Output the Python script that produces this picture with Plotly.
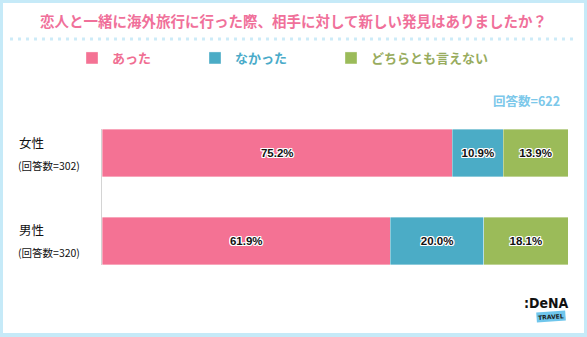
import plotly.graph_objects as go

# Survey: did you discover something new about your partner on an overseas trip?
groups = ["女性", "男性"]
respondents = [302, 320]
total_respondents = 622

answers = ["あった", "なかった", "どちらとも言えない"]
share_yes = [75.2, 61.9]
share_no = [10.9, 20.0]
share_neither = [13.9, 18.1]

bar_colors = ["#F47294", "#4BACC6", "#9BBB59"]
legend_text_colors = ["#F06E92", "#4AABC9", "#98AC5E"]

W, H = 587, 337
JP = "Noto Sans CJK JP"


def px(x):
    return x / W


def py(y):
    return 1 - y / H


fig = go.Figure()

series = [share_yes, share_no, share_neither]
legend_ids = ["legend", "legend2", "legend3"]
ypos = list(range(len(groups)))
for name, vals, color, lid in zip(answers, series, bar_colors, legend_ids):
    fig.add_trace(go.Bar(
        y=ypos,
        x=vals,
        orientation="h",
        name=name,
        legend=lid,
        width=0.545,
        marker=dict(color=color, line=dict(color="rgba(255,255,255,0.6)", width=0.6)),
        texttemplate="%{x:.1f}%",
        textposition="inside",
        insidetextanchor="middle",
        textangle=0,
        textfont=dict(family="Arial, Liberation Sans, sans-serif", size=11.5, color="#111111",
                      weight="bold",
                      shadow="1px 1px 0 #fff, -1px -1px 0 #fff, 1px -1px 0 #fff, -1px 1px 0 #fff, 0 1px 0 #fff, 1px 0 0 #fff, 0 -1px 0 #fff, -1px 0 0 #fff"),
        hoverinfo="skip",
    ))

# group labels with respondent counts
annotations = []
label_rows = [155, 242]
for g, n, yc in zip(groups, respondents, label_rows):
    annotations.append(dict(
        x=px(17), y=py(yc - 1), xref="paper", yref="paper",
        xanchor="left", yanchor="bottom", showarrow=False,
        text=g, font=dict(family=JP, size=12.5, color="#111111"),
    ))
    annotations.append(dict(
        x=px(16), y=py(yc + 1), xref="paper", yref="paper",
        xanchor="left", yanchor="top", showarrow=False,
        text=f"(回答数={n})", font=dict(family=JP, size=10.5, color="#111111"),
    ))

annotations += [
    dict(x=0.5, y=py(20), xref="paper", yref="paper", xanchor="center", yanchor="middle",
         showarrow=False,
         text="<b>恋人と一緒に海外旅行に行った際、相手に対して新しい発見はありましたか？</b>",
         font=dict(family=JP, size=14.5, color="#F0709A")),
    dict(x=px(562), y=py(100), xref="paper", yref="paper", xanchor="right", yanchor="middle",
         showarrow=False, text=f"<b>回答数={total_respondents}</b>",
         font=dict(family=JP, size=12.5, color="#7CC8EA")),
    dict(x=px(546), y=py(303), xref="paper", yref="paper", xanchor="center", yanchor="middle",
         showarrow=False, text="<b>:DeNA</b>",
         font=dict(family="DejaVu Sans Condensed, sans-serif", size=14, color="#111111")),
    dict(x=px(551), y=py(316), xref="paper", yref="paper", xanchor="center", yanchor="middle",
         showarrow=False, text="<b>TRAVEL</b>", textangle=-4, bgcolor="#6FC6EC",
         borderpad=1, font=dict(family="DejaVu Sans, sans-serif", size=6, color="#1A1A1A")),
]

shapes = [
    # frame interior
    dict(type="rect", xref="paper", yref="paper", x0=px(3), x1=px(584), y0=py(333), y1=py(3),
         fillcolor="white", line=dict(width=0), layer="below"),
    # dotted separator under the title
    dict(type="line", xref="paper", yref="paper", x0=px(10), x1=px(578), y0=py(39), y1=py(39),
         line=dict(color="#CDEBF8", width=3, dash="3px,5px")),
]

legend_x = [72, 195, 331]
legends = {}
for lid, xl, col in zip(legend_ids, legend_x, legend_text_colors):
    legends[lid] = dict(
        x=px(xl), y=py(58), xref="paper", yref="paper", xanchor="left", yanchor="middle",
        orientation="h", bgcolor="rgba(0,0,0,0)", borderwidth=0,
        font=dict(family=JP, size=13, color=col, weight="bold"),
        itemwidth=30, itemclick=False, itemdoubleclick=False,
    )

fig.update_layout(
    width=W, height=H,
    margin=dict(l=0, r=0, t=0, b=0),
    paper_bgcolor="#C6EAF8",
    plot_bgcolor="rgba(0,0,0,0)",
    barmode="stack",
    showlegend=True,
    xaxis=dict(domain=[px(102), px(568)], range=[0, 100], visible=False, fixedrange=True),
    yaxis=dict(domain=[py(265), py(129)], range=[1.2727, -0.2727], showticklabels=False,
               showgrid=False, zeroline=False, showline=True, linecolor="#D4D4D4", linewidth=1,
               ticks="", fixedrange=True),
    annotations=annotations,
    shapes=shapes,
    **legends,
)

fig.write_html("out.html", config={"displayModeBar": False})
